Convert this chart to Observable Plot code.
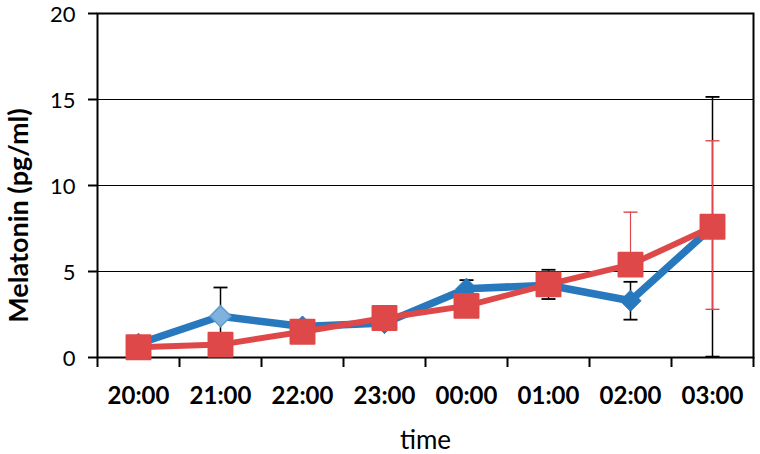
<!DOCTYPE html>
<html>
<head>
<meta charset="utf-8">
<script src="https://cdn.jsdelivr.net/npm/d3@7"></script>
<script src="https://cdn.jsdelivr.net/npm/@observablehq/plot@0.6"></script>
<style>
  html, body { margin: 0; padding: 0; background: white; }
</style>
</head>
<body>
<div id="chart"></div>
<script>
// ---- data ----
const times = ["20:00", "21:00", "22:00", "23:00", "00:00", "01:00", "02:00", "03:00"];
const blueMean = [0.8, 2.4, 1.8, 2.0, 4.0, 4.2, 3.3, 7.6];
const blueLow  = [null, 0.73, null, null, 3.5, 3.4, 2.2, 0.05];
const blueHigh = [null, 4.07, null, null, 4.5, 5.1, 4.4, 15.15];
const redMean  = [0.6, 0.75, 1.5, 2.3, 3.0, 4.25, 5.4, 7.6];
const redLow   = [null, null, null, null, null, null, null, 2.8];
const redHigh  = [null, null, null, null, null, null, 8.45, 12.6];
const yTicks = [0, 5, 10, 15, 20];
const gridTicks = [5, 10, 15];
const highlighted = "21:00";
const yLabel = "Melatonin (pg/ml)";
const xLabel = "time";

// ---- derived tables ----
const rows = times.map((t, i) => ({i, t, blue: blueMean[i], red: redMean[i],
  blueLow: blueLow[i], blueHigh: blueHigh[i], redLow: redLow[i], redHigh: redHigh[i]}));
const blueBars = rows.filter(d => d.blueLow != null && d.blueHigh != null);
const blueCaps = rows.flatMap(d => [d.blueLow, d.blueHigh].filter(v => v != null).map(v => ({i: d.i, v})));
const redBars = rows.filter(d => d.redHigh != null).map(d => ({i: d.i, y1: d.redLow != null ? d.redLow : d.red, y2: d.redHigh}));
const redCaps = rows.flatMap(d => [d.redLow, d.redHigh].filter(v => v != null).map(v => ({i: d.i, v})));

const capSymbol = {
  draw(context, size) {
    const w = Math.sqrt(size / Math.PI);
    context.moveTo(-w, 0);
    context.lineTo(w, 0);
  }
};

const BLUE = "#2878be";
const RED = "#de4848";

const chart = Plot.plot({
  width: 760,
  height: 454,
  marginLeft: 97,
  marginRight: 7,
  marginTop: 13,
  marginBottom: 97,
  style: {fontFamily: "Lato", color: "black", background: "white"},
  x: {type: "linear", domain: [-0.5, times.length - 0.5]},
  y: {domain: [0, 20]},
  marks: [
    Plot.gridY(gridTicks, {stroke: "black", strokeOpacity: 1, strokeWidth: 1.2}),
    Plot.frame({stroke: "black", strokeWidth: 2}),
    Plot.axisY({ticks: yTicks, tickSize: 9, strokeWidth: 2, tickFormat: () => "", label: null}),
    Plot.axisY({ticks: yTicks, tickSize: 0, tickPadding: 22, fontSize: 22, dy: 1.5, label: null}),
    Plot.axisX({ticks: d3.range(-0.5, times.length, 1), tickSize: 10, strokeWidth: 2, tickFormat: () => "", label: null}),
    Plot.axisX({ticks: d3.range(times.length), tickSize: 0, tickPadding: 29, tickFormat: i => times[i],
      fontSize: 24, fontWeight: "bold", label: null}),
    // blue series error bars (black)
    Plot.ruleX(blueBars, {x: "i", y1: "blueLow", y2: "blueHigh", stroke: "black", strokeWidth: 1.5}),
    Plot.dot(blueCaps, {x: "i", y: "v", symbol: capSymbol, r: 7, stroke: "black", strokeWidth: 1.8, fill: "none"}),
    // blue series
    Plot.line(rows, {x: "i", y: "blue", stroke: BLUE, strokeWidth: 7.5, strokeLinejoin: "round", strokeLinecap: "round"}),
    Plot.dot(rows.filter(d => d.t !== highlighted), {x: "i", y: "blue", symbol: "diamond2", r: 9.5, fill: BLUE, stroke: BLUE, strokeWidth: 1}),
    Plot.dot(rows.filter(d => d.t === highlighted), {x: "i", y: "blue", symbol: "diamond2", r: 9.5, fill: "#7fb2de", stroke: "#5b9bd0", strokeWidth: 1.5}),
    // red series error bars
    Plot.ruleX(redBars, {x: "i", y1: "y1", y2: "y2", stroke: RED, strokeWidth: 1.2}),
    Plot.dot(redCaps, {x: "i", y: "v", symbol: capSymbol, r: 7, stroke: RED, strokeWidth: 1.4, fill: "none"}),
    // red series
    Plot.line(rows, {x: "i", y: "red", stroke: RED, strokeWidth: 6, strokeLinejoin: "round", strokeLinecap: "round"}),
    Plot.dot(rows, {x: "i", y: "red", symbol: "square", r: 13.5, fill: RED, stroke: RED, strokeWidth: 2, strokeLinejoin: "round"}),
    // axis titles
    Plot.text([xLabel], {text: d => d, frameAnchor: "bottom", textAnchor: "middle", lineAnchor: "middle", dy: 83, fontSize: 26}),
    Plot.text([yLabel], {text: d => d, frameAnchor: "left", textAnchor: "middle", lineAnchor: "middle", rotate: -90, dx: -78, dy: 30, fontSize: 27, fontWeight: "bold"})
  ]
});

document.getElementById("chart").appendChild(chart);
</script>
</body>
</html>
